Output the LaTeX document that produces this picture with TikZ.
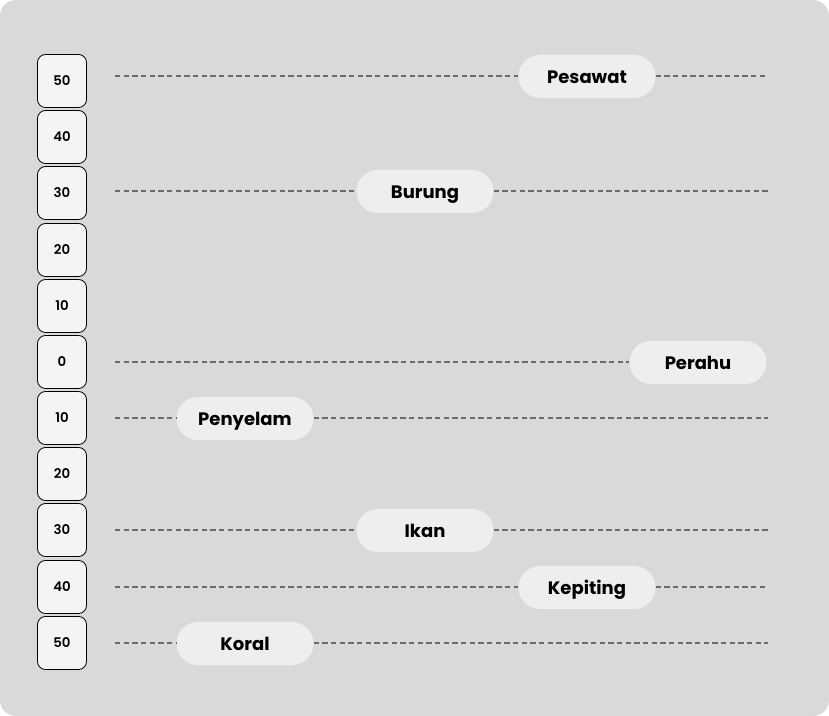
\documentclass[tikz,border=0pt]{standalone}
\usepackage{fontspec}
\setmainfont{Poppins}
\newfontfamily\pillfont{Poppins}[UprightFont=* Bold]
\newfontfamily\numfont{Poppins}[UprightFont=* SemiBold]
\usetikzlibrary{positioning}
\definecolor{bgcol}{HTML}{D9D9D9}
\definecolor{boxcol}{HTML}{F4F4F4}
\definecolor{pillcol}{HTML}{EEEEEE}
\definecolor{dashcol}{HTML}{6A6A6A}

\begin{document}
\begin{tikzpicture}[x=0.75pt,y=-0.75pt,
  level/.style={draw=black,line width=0.6pt,fill=boxcol,rounded corners=6pt,
    minimum width=36.75pt,minimum height=39.75pt,inner sep=0pt,
    text height=7.2pt,text depth=0pt,
    font=\numfont\fontsize{10}{12}\selectfont},
  pill/.style={fill=pillcol,rounded corners=16pt,minimum width=102.75pt,
    minimum height=32.25pt,inner sep=0pt,text height=10.8pt,text depth=0pt,
    font=\pillfont\fontsize{13.5}{16}\selectfont},
  guide/.style={draw=dashcol,line width=0.95pt,dash pattern=on 4pt off 2.5pt}]
%%
  % Background
  \fill[bgcol,rounded corners=12pt] (0,0) rectangle (829,716);
  \useasboundingbox (0,0) rectangle (829,716);
  % Node: scale column
  \node[level] (up50) at (62,81) {50};
  \node[level] (up40) at (62,137) {40};
  \node[level] (up30) at (62,193) {30};
  \node[level] (up20) at (62,250) {20};
  \node[level] (up10) at (62,306) {10};
  \node[level] (zero) at (62,362) {0};
  \node[level] (dn10) at (62,418) {10};
  \node[level] (dn20) at (62,474) {20};
  \node[level] (dn30) at (62,530) {30};
  \node[level] (dn40) at (62,587) {40};
  \node[level] (dn50) at (62,643) {50};
  % Node: line ends
  \coordinate (pesawatL) at (115,76);   \coordinate (pesawatR) at (768,76);
  \coordinate (burungL) at (115,191);   \coordinate (burungR) at (768,191);
  \coordinate (perahuL) at (115,362);
  \coordinate (penyelamL) at (115,418); \coordinate (penyelamR) at (768,418);
  \coordinate (ikanL) at (115,530);     \coordinate (ikanR) at (768,530);
  \coordinate (kepitingL) at (115,587); \coordinate (kepitingR) at (768,587);
  \coordinate (koralL) at (115,643);    \coordinate (koralR) at (768,643);
  % Node: labels
  \node[pill] (pesawat) at (587,76.5) {Pesawat};
  \node[pill] (burung) at (425,191.5) {Burung};
  \node[pill] (perahu) at (698,362.5) {Perahu};
  \node[pill] (penyelam) at (245,418.5) {Penyelam};
  \node[pill] (ikan) at (425,530.5) {Ikan};
  \node[pill] (kepiting) at (587,587.5) {Kepiting};
  \node[pill] (koral) at (245,643.5) {Koral};
  % Edge: guides
  \draw[guide] (pesawatL) -- (pesawat.west |- pesawatL) (pesawat.east |- pesawatR) -- (pesawatR);
  \draw[guide] (burungL) -- (burung.west |- burungL) (burung.east |- burungR) -- (burungR);
  \draw[guide] (perahuL) -- (perahu.west |- perahuL);
  \draw[guide] (penyelamL) -- (penyelam.west |- penyelamL) (penyelam.east |- penyelamR) -- (penyelamR);
  \draw[guide] (ikanL) -- (ikan.west |- ikanL) (ikan.east |- ikanR) -- (ikanR);
  \draw[guide] (kepitingL) -- (kepiting.west |- kepitingL) (kepiting.east |- kepitingR) -- (kepitingR);
  \draw[guide] (koralL) -- (koral.west |- koralL) (koral.east |- koralR) -- (koralR);
%
\end{tikzpicture}
\end{document}
